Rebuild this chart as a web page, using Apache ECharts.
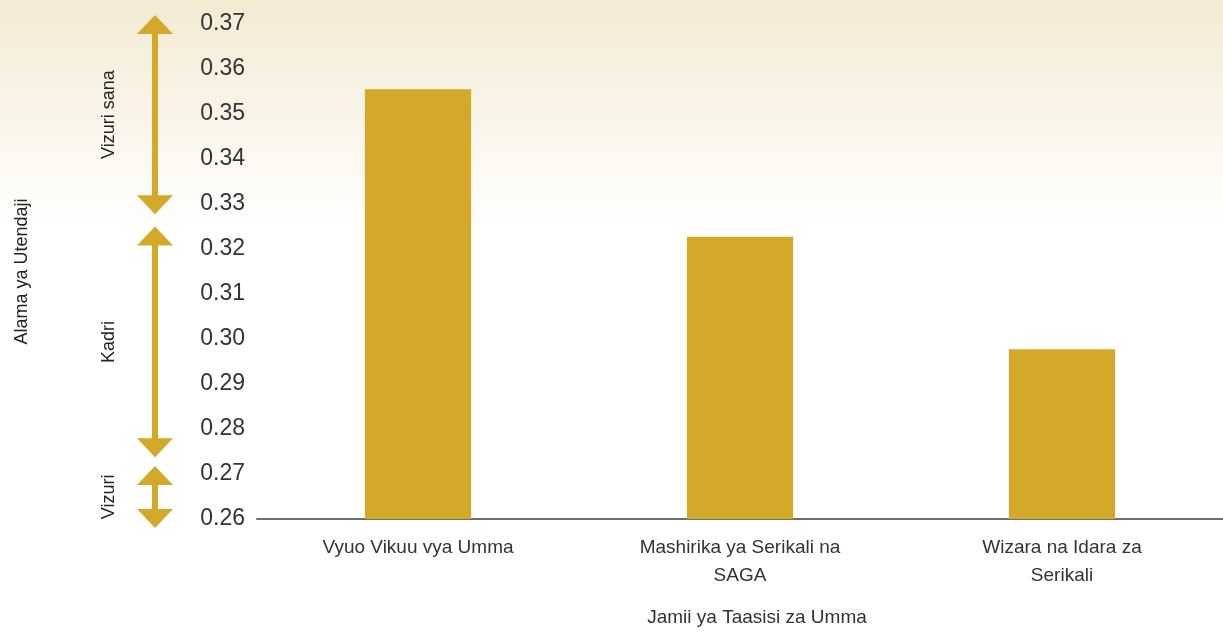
<!DOCTYPE html>
<html>
<head>
<meta charset="utf-8">
<script src="https://cdn.jsdelivr.net/npm/echarts@6/dist/echarts.min.js"></script>
<style>
	html, body { margin: 0; padding: 0; background: #fff; }
	#chart { width: 1223px; height: 632px; }
</style>
</head>
<body>
<div id="chart"></div>
<script>
	var categories = ['Vyuo Vikuu vya Umma', 'Mashirika ya Serikali na\nSAGA', 'Wizara na Idara za\nSerikali'];
	var scores = [0.3555, 0.3227, 0.2977];
	// rating bands drawn as arrows beside the axis: [top tip, bottom tip]
	var bandNames = ['Vizuri sana', 'Kadri', 'Vizuri'];
	var bandRanges = [[0.372, 0.3277], [0.325, 0.2737], [0.2718, 0.258]];

	var gold = '#d4a92a';
	var textFont = 'Liberation Sans';

	/*---bar chart (#chart)---*/
	var myChart = echarts.init(document.getElementById('chart'));
	var option = {
		animation: false,
		grid: {
			left: 257,
			right: 0,
			top: 24,
			bottom: 111
		},
		xAxis: {
			type: 'category',
			data: categories,
			name: 'Jamii ya Taasisi za Umma',
			nameLocation: 'middle',
			nameGap: 89,
			nameTextStyle: {
				color: '#333',
				fontSize: 19,
				fontFamily: textFont,
				padding: [0, 0, 0, 34]
			},
			axisLine: {
				lineStyle: {
					color: '#6d6e71',
					width: 2
				}
			},
			axisTick: { show: false },
			axisLabel: {
				color: '#333',
				fontSize: 19,
				fontFamily: textFont,
				lineHeight: 28,
				margin: 15
			}
		},
		yAxis: {
			type: 'value',
			min: 0.26,
			max: 0.37,
			interval: 0.01,
			name: 'Alama ya Utendaji',
			nameLocation: 'middle',
			nameGap: 226,
			nameRotate: 90,
			nameTextStyle: {
				color: '#222',
				fontSize: 18,
				fontFamily: textFont
			},
			axisLine: { show: false },
			axisTick: { show: false },
			splitLine: { show: false },
			axisLabel: {
				color: '#333',
				fontSize: 23,
				fontFamily: textFont,
				margin: 12,
				padding: [0, 0, 8, 0],
				formatter: function (v) { return v.toFixed(2); }
			}
		},
		series: [{
			type: 'bar',
			data: scores,
			barWidth: '33%',
			itemStyle: { color: gold }
		}]
	};
	myChart.setOption(option);

	// background wash + band arrows, positioned from the y scale
	var arrowX = 155;
	var graphics = [{
		type: 'rect',
		z: -10,
		silent: true,
		shape: { x: 0, y: 0, width: 1223, height: 632 },
		style: {
			fill: new echarts.graphic.LinearGradient(0, 0, 0, 1, [
				{ offset: 0, color: '#f4ead2' },
				{ offset: 0.36, color: '#ffffff' },
				{ offset: 1, color: '#ffffff' }
			])
		}
	}];
	bandRanges.forEach(function (r, i) {
		var yTop = myChart.convertToPixel({ yAxisIndex: 0 }, r[0]);
		var yBot = myChart.convertToPixel({ yAxisIndex: 0 }, r[1]);
		var head = 19;
		graphics.push({
			type: 'rect',
			shape: { x: arrowX - 3, y: yTop + head - 1, width: 6, height: yBot - yTop - 2 * head + 2 },
			style: { fill: gold }
		}, {
			type: 'polygon',
			shape: { points: [[arrowX, yTop], [arrowX - 18, yTop + head], [arrowX + 18, yTop + head]] },
			style: { fill: gold }
		}, {
			type: 'polygon',
			shape: { points: [[arrowX, yBot], [arrowX - 18, yBot - head], [arrowX + 18, yBot - head]] },
			style: { fill: gold }
		}, {
			type: 'text',
			x: 109,
			y: (yTop + yBot) / 2,
			rotation: Math.PI / 2,
			style: {
				text: bandNames[i],
				fill: '#222',
				fontSize: 18,
				fontFamily: textFont,
				align: 'center',
				verticalAlign: 'middle'
			}
		});
	});
	myChart.setOption({ graphic: graphics });
	/*---bar chart (#chart) closed---*/
</script>
</body>
</html>
